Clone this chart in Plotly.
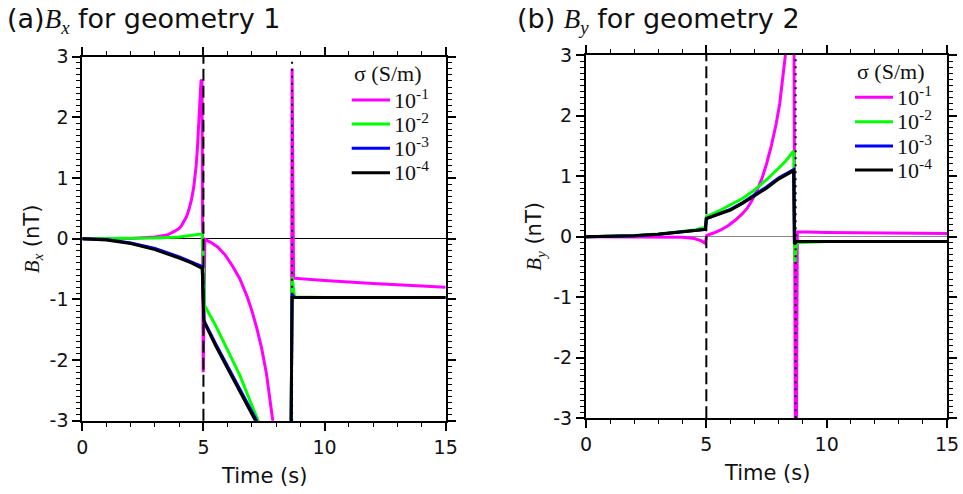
import plotly.graph_objects as go

W, H = 963, 494

# ---------------- data: panel (a) Bx, geometry 1 ----------------
ta_m = [0, 1, 2, 3, 3.5, 3.8, 4.0, 4.1, 4.2, 4.3, 4.4, 4.5, 4.6, 4.65, 4.7, 4.75, 4.8, 4.85, 4.9, 4.94, 4.99, 5.06,
        5.3, 5.6, 5.9, 6.2, 6.5, 6.8, 7.0, 7.2, 7.4, 7.6, 7.9, 8.3, 8.62, 8.66, 8.72, 9, 10, 12, 15]
ya_m = [0, 0.0, 0.005, 0.03, 0.06, 0.12, 0.17, 0.22, 0.28, 0.36, 0.48, 0.63, 0.85, 1.0, 1.2, 1.48, 1.85, 2.25, 2.6, 2.62, -2.2, -0.01,
        -0.06, -0.14, -0.27, -0.45, -0.66, -0.95, -1.19, -1.47, -1.8, -2.22, -3.05, -4.3, -5.6, 2.8, -0.65, -0.66, -0.69, -0.74, -0.8]

ta_g = [0, 1, 2, 3, 4, 4.5, 4.95, 5.0, 5.05, 5.5, 6.0, 6.5, 7.0, 7.3, 8.0, 8.6, 8.66, 8.76, 10, 15]
ya_g = [0, 0.0, 0.005, 0.01, 0.03, 0.05, 0.08, -0.4, -1.1, -1.43, -1.83, -2.25, -2.75, -3.03, -3.7, -4.3, -0.63, -0.96, -0.97, -0.97]

ta_b = [0, 1, 2, 3, 4, 4.5, 4.95, 5.02, 5.06, 5.5, 6.0, 6.5, 7.0, 7.2, 8.0, 8.6, 8.66, 8.76, 10, 15]
ya_b = [0, -0.015, -0.07, -0.16, -0.3, -0.38, -0.46, -1.34, -1.38, -1.73, -2.11, -2.49, -2.86, -3.01, -3.6, -4.0, -0.92, -0.97, -0.97, -0.97]

ta_k = [0, 1, 2, 3, 4, 4.5, 4.95, 5.02, 5.06, 5.5, 6.0, 6.5, 7.0, 7.2, 8.0, 8.6, 8.66, 8.76, 10, 15]
ya_k = [0, -0.02, -0.08, -0.18, -0.32, -0.4, -0.49, -1.37, -1.4, -1.76, -2.14, -2.52, -2.89, -3.04, -3.6, -4.0, -0.97, -0.97, -0.97, -0.97]

# ---------------- data: panel (b) By, geometry 2 ----------------
tb_m = [0, 1, 2, 3, 4, 4.5, 4.8, 4.95, 5.02, 5.3, 5.6, 5.9, 6.2, 6.5, 6.7, 6.9, 7.1, 7.3, 7.5, 7.7, 7.9, 8.05, 8.2, 8.3,
        8.45, 8.62, 8.72, 8.78, 10, 12, 15]
yb_m = [0, 0, 0, -0.005, -0.01, -0.03, -0.07, -0.11, 0.02, 0.06, 0.11, 0.18, 0.27, 0.38, 0.47, 0.6, 0.76, 0.95, 1.2, 1.5, 1.86, 2.2, 2.65, 3.05,
        3.9, 6.0, -6.0, 0.08, 0.07, 0.06, 0.05]

tb_g = [0, 1, 2, 3, 4, 4.5, 4.96, 5.0, 5.5, 6.0, 6.5, 7.0, 7.5, 8.0, 8.3, 8.63, 8.68, 8.75, 10, 15]
yb_g = [0, 0.005, 0.02, 0.045, 0.085, 0.11, 0.15, 0.33, 0.42, 0.52, 0.63, 0.77, 0.94, 1.13, 1.25, 1.42, -0.42, -0.1, -0.08, -0.08]

tb_b = [0, 1, 2, 3, 4, 4.5, 4.96, 5.0, 5.5, 6.0, 6.5, 7.0, 7.5, 8.0, 8.3, 8.63, 8.66, 8.75, 10, 15]
yb_b = [0, 0.005, 0.015, 0.04, 0.075, 0.095, 0.12, 0.3, 0.37, 0.45, 0.56, 0.69, 0.82, 0.97, 1.04, 1.11, -0.12, -0.08, -0.08, -0.08]

tb_k = [0, 1, 2, 3, 4, 4.5, 4.96, 5.0, 5.5, 6.0, 6.5, 7.0, 7.5, 8.0, 8.3, 8.63, 8.66, 8.75, 10, 15]
yb_k = [0, 0.005, 0.015, 0.04, 0.075, 0.095, 0.12, 0.3, 0.37, 0.44, 0.55, 0.67, 0.8, 0.95, 1.02, 1.09, -0.12, -0.08, -0.08, -0.08]

sigma_labels = ["10<sup>-1</sup>", "10<sup>-2</sup>", "10<sup>-3</sup>", "10<sup>-4</sup>"]
colors = ["#ff00ff", "#00ff00", "#0000ff", "#000000"]

x_ticks = [0, 5, 10, 15]
x_ticktext = ["0", "5", "10", "15"]
y_ticks = [-3, -2, -1, 0, 1, 2, 3]
y_ticktext = ["-3", "-2", "-1", "0", "1", "2", "3"]

t_switch1 = 5.0
t_switch2_a = 8.66
t_switch2_b = 8.71

SANS = "DejaVu Sans"
SERIF = "Liberation Serif"


def px(x):
    return x / W


def py(y):
    return 1 - y / H


fig = go.Figure()

panels = [
    ("x", "y", [(ta_m, ya_m), (ta_g, ya_g), (ta_b, ya_b), (ta_k, ya_k)]),
    ("x2", "y2", [(tb_m, yb_m), (tb_g, yb_g), (tb_b, yb_b), (tb_k, yb_k)]),
]
for xa, ya, series in panels:
    for (t, v), c, name in zip(series, colors, sigma_labels):
        fig.add_trace(go.Scatter(x=t, y=v, mode="lines", line=dict(color=c, width=3),
                                 xaxis=xa, yaxis=ya, showlegend=False, name=name))

tickfont = dict(family=SANS, size=19, color="#111")


def xaxis_cfg(domain, anchor):
    return dict(domain=domain, anchor=anchor, range=[0, 15],
                tickmode="array", tickvals=x_ticks, ticktext=x_ticktext,
                ticks="outside", ticklen=8, tickwidth=1.5, tickcolor="black",
                showline=True, linecolor="black", linewidth=2, mirror="ticks",
                showgrid=False, zeroline=False, tickfont=tickfont, automargin=False,
                minor=dict(tickmode="linear", tick0=0, dtick=1, ticks="outside", ticklen=4, tickwidth=1.2,
                           tickcolor="black", showgrid=False))


def yaxis_cfg(domain, anchor, zc):
    return dict(domain=domain, anchor=anchor, range=[-3, 3],
                tickmode="array", tickvals=y_ticks, ticktext=y_ticktext,
                ticks="outside", ticklen=8, tickwidth=1.5, tickcolor="black",
                showline=True, linecolor="black", linewidth=2, mirror="ticks",
                showgrid=False, zeroline=True, zerolinecolor=zc, zerolinewidth=1,
                tickfont=tickfont, automargin=False,
                minor=dict(tickmode="linear", tick0=0, dtick=0.1, ticks="outside", ticklen=4, tickwidth=1,
                           tickcolor="black", showgrid=False))


L = dict(x0=82.3, x1=445.7, y0=56.7, y1=420.7)
R = dict(x0=586.0, x1=947.0, y0=55.0, y1=418.3)

fig.update_layout(
    width=W, height=H, autosize=False,
    margin=dict(l=0, r=0, t=0, b=0, pad=0, autoexpand=False),
    paper_bgcolor="white", plot_bgcolor="white",
    xaxis=xaxis_cfg([px(L["x0"]), px(L["x1"])], "y"),
    yaxis=yaxis_cfg([py(L["y1"]), py(L["y0"])], "x", "black"),
    xaxis2=xaxis_cfg([px(R["x0"]), px(R["x1"])], "y2"),
    yaxis2=yaxis_cfg([py(R["y1"]), py(R["y0"])], "x2", "#888888"),
)

# vertical marker lines
for xr, yr, t2 in [("x", "y", t_switch2_a), ("x2", "y2", t_switch2_b)]:
    fig.add_shape(type="line", xref=xr, yref=yr + " domain", x0=t_switch1, x1=t_switch1, y0=0, y1=1,
                  line=dict(color="black", width=2, dash="12px,5px"))
    fig.add_shape(type="line", xref=xr, yref=yr + " domain", x0=t2, x1=t2, y0=0, y1=1,
                  line=dict(color="black", width=2, dash="2px,5px"))

ann = []
# titles
ann.append(dict(x=px(5), y=py(1), xanchor="left", yanchor="top",
                text=f"(a)<span style='font-family:{SERIF}'><i>B</i><sub><i>x</i></sub></span> for geometry 1",
                font=dict(family=SANS, size=27, color="#111")))
ann.append(dict(x=px(515), y=py(1), xanchor="left", yanchor="top",
                text=f"(b) <span style='font-family:{SERIF}'><i>B</i><sub><i>y</i></sub></span> for geometry 2",
                font=dict(family=SANS, size=27, color="#111")))
# axis titles
for P, sub, yx in [(L, "x", 32.5), (R, "y", 535)]:
    ann.append(dict(x=px((P["x0"] + P["x1"]) / 2), y=py(P["y1"] + 55), xanchor="center", yanchor="middle",
                    text="Time (s)", font=dict(family=SANS, size=21, color="#111")))
    ann.append(dict(x=px(yx), y=py((P["y0"] + P["y1"]) / 2), xanchor="center", yanchor="middle",
                    textangle=-90,
                    text=f"<span style='font-family:{SERIF}'><i>B</i><sub><i>{sub}</i></sub></span> (nT)",
                    font=dict(family=SANS, size=21, color="#111")))

# legends
for lx0, lx1, ys, ty in [(351.7, 390, [100, 124, 148.3, 172.7], 73.5), (855, 893, [97.3, 121.7, 146, 170], 71.5)]:
    ann.append(dict(x=px(lx0), y=py(ty), xanchor="left", yanchor="middle", text="σ (S/m)",
                    font=dict(family=SERIF, size=22, color="#111")))
    for yy, c, lab in zip(ys, colors, sigma_labels):
        fig.add_shape(type="line", xref="paper", yref="paper", x0=px(lx0), x1=px(lx1), y0=py(yy), y1=py(yy),
                      line=dict(color=c, width=3))
        ann.append(dict(x=px(lx1 + 1.5), y=py(yy - 1.5), xanchor="left", yanchor="middle", text=lab,
                        font=dict(family=SERIF, size=22, color="#111")))

for a in ann:
    a.update(xref="paper", yref="paper", showarrow=False)
fig.update_layout(annotations=ann)

fig.write_html("out.html", config={"displayModeBar": False},
               post_script="document.body.style.margin='0';document.body.style.overflow='hidden';")
